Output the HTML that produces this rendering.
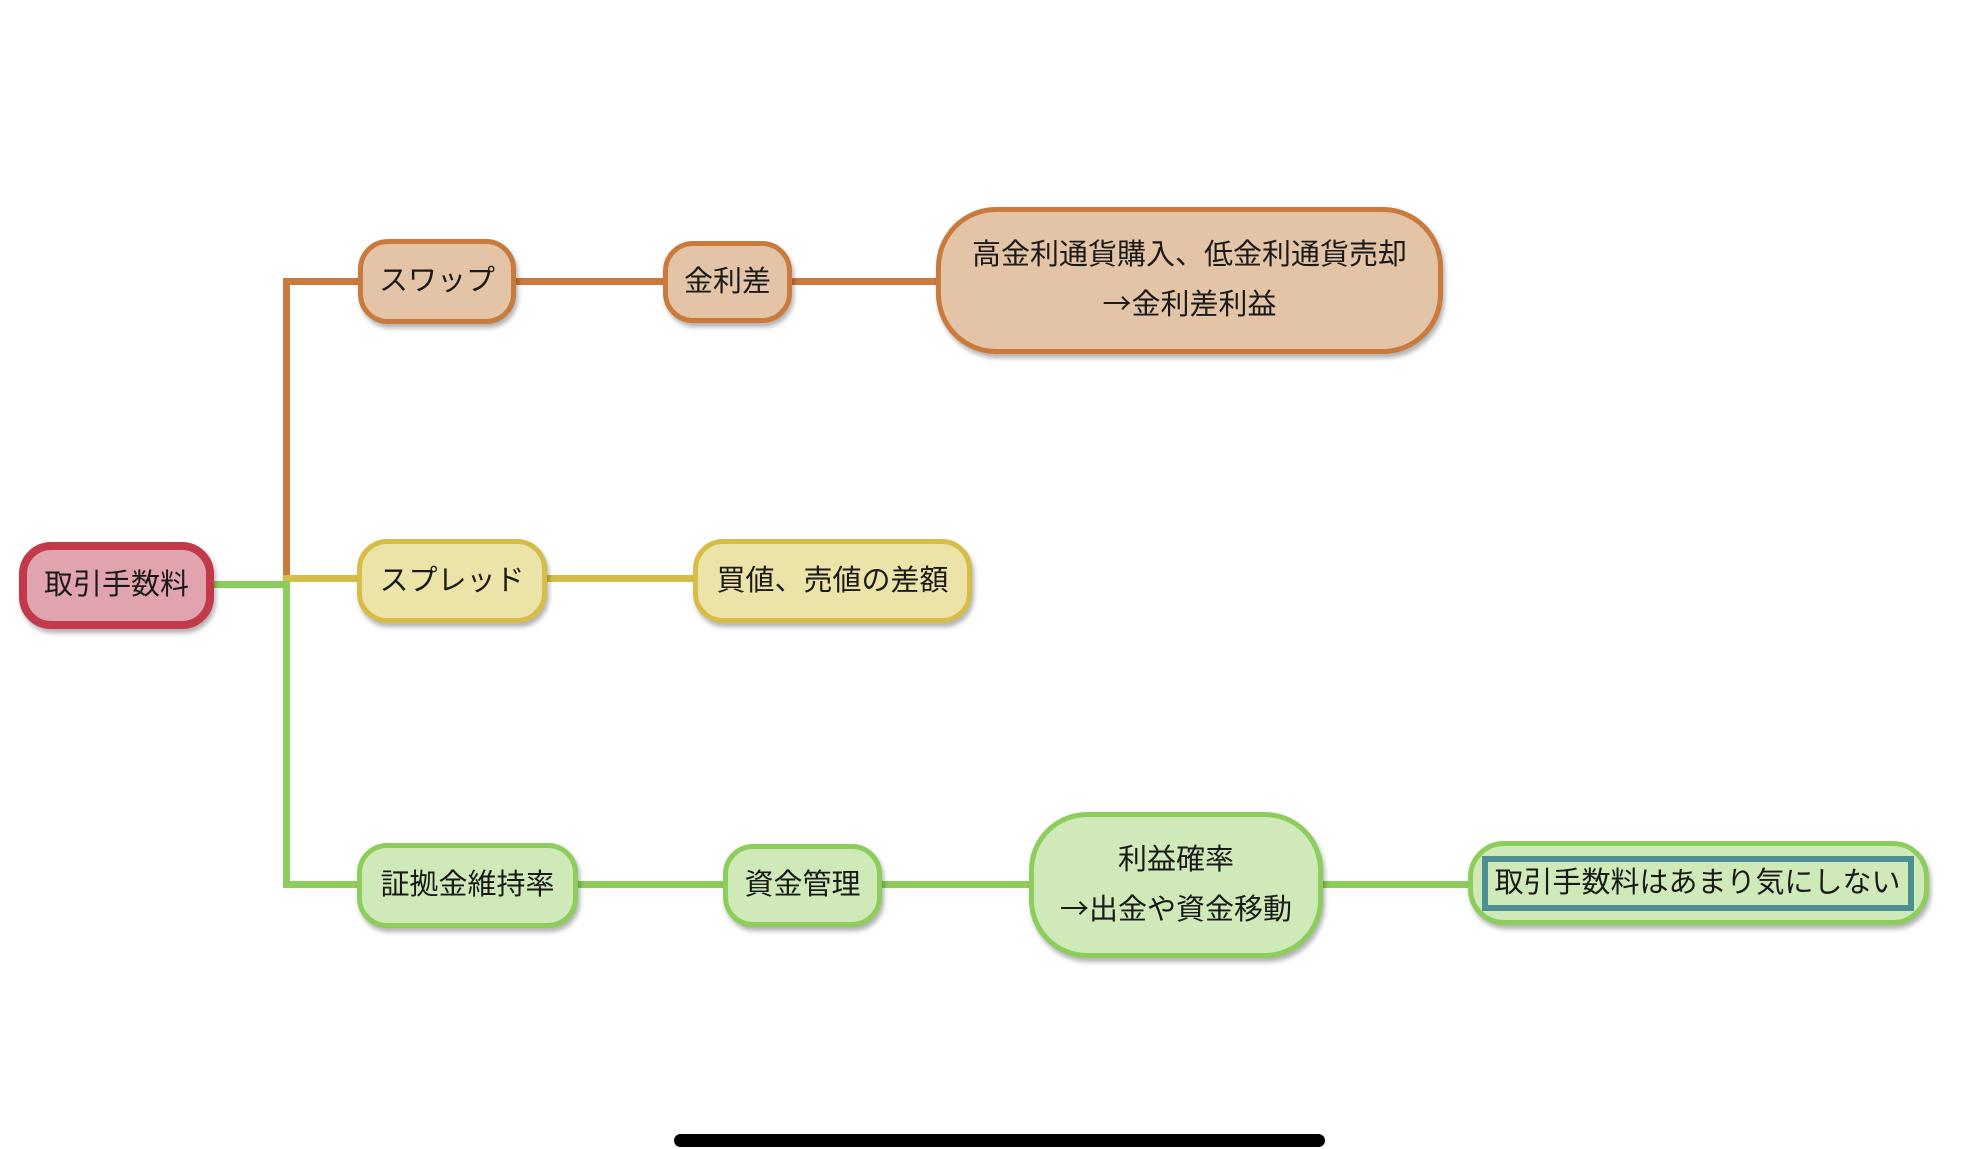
<!DOCTYPE html>
<html><head><meta charset="utf-8"><style>
html,body{margin:0;padding:0;background:#fff;width:1968px;height:1149px;overflow:hidden;position:relative}
.n{position:absolute;box-sizing:border-box;display:flex;align-items:center;justify-content:center;text-align:center;
font-family:"Liberation Sans","Noto Sans CJK JP",sans-serif;font-size:29px;color:#1a1a1a;border-width:5px;border-style:solid;
box-shadow:2px 4px 5px rgba(0,0,0,0.3);line-height:47px;white-space:nowrap}
.a{font-family:"Noto Sans CJK JP",sans-serif}
.o{background:#e4c4a6;border-color:#c97a3c}
.y{background:#ece3a8;border-color:#d6bd48}
.g{background:#cfe9b9;border-color:#8ccd5c}
.r{background:#e1a4ae;border-color:#c23a4a;border-width:8px}
.l{position:absolute}
</style></head><body>
<div class="l" style="left:283px;top:278px;width:7px;height:305px;background:#c97a3c"></div>
<div class="l" style="left:283px;top:278px;width:80px;height:7px;background:#c97a3c"></div>
<div class="l" style="left:515px;top:278px;width:155px;height:7px;background:#c97a3c"></div>
<div class="l" style="left:790px;top:278px;width:150px;height:7px;background:#c97a3c"></div>
<div class="l" style="left:283px;top:575px;width:80px;height:7px;background:#d6bd48"></div>
<div class="l" style="left:545px;top:575px;width:155px;height:7px;background:#d6bd48"></div>
<div class="l" style="left:212px;top:581px;width:78px;height:7px;background:#8ccd5c"></div>
<div class="l" style="left:283px;top:581px;width:7px;height:307px;background:#8ccd5c"></div>
<div class="l" style="left:283px;top:881px;width:80px;height:7px;background:#8ccd5c"></div>
<div class="l" style="left:575px;top:881px;width:155px;height:7px;background:#8ccd5c"></div>
<div class="l" style="left:880px;top:881px;width:155px;height:7px;background:#8ccd5c"></div>
<div class="l" style="left:1320px;top:881px;width:152px;height:7px;background:#8ccd5c"></div>
<div class="n r" style="left:19px;top:542px;width:195px;height:87px;border-radius:32px">取引手数料</div>
<div class="n o" style="left:358px;top:239px;width:158px;height:85px;border-radius:30px">スワップ</div>
<div class="n o" style="left:663px;top:241px;width:129px;height:82px;border-radius:30px">金利差</div>
<div class="n o" style="left:936px;top:207px;width:507px;height:147px;border-radius:60px"><div>高金利通貨購入、低金利通貨売却<br><span class="a">→</span>金利差利益</div></div>
<div class="n y" style="left:357px;top:539px;width:190px;height:84px;border-radius:30px">スプレッド</div>
<div class="n y" style="left:693px;top:539px;width:279px;height:84px;border-radius:30px">買値、売値の差額</div>
<div class="n g" style="left:357px;top:843px;width:221px;height:85px;border-radius:30px">証拠金維持率</div>
<div class="n g" style="left:723px;top:844px;width:159px;height:83px;border-radius:30px">資金管理</div>
<div class="n g" style="left:1029px;top:812px;width:294px;height:146px;border-radius:58px"><div>利益確率<br><span class="a">→</span>出金や資金移動</div></div>
<div class="n g" style="left:1468px;top:841px;width:461px;height:84px;border-radius:36px">
<span style="display:block;box-sizing:border-box;border:6px solid #4e9090;width:432px;height:55px;line-height:43px;margin-left:-2px">取引手数料はあまり気にしない</span></div>
<div class="l" style="left:674px;top:1134px;width:651px;height:13px;background:#000;border-radius:7px"></div>
</body></html>
